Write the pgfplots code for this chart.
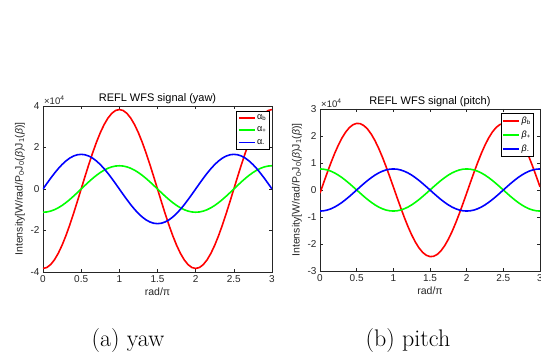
\documentclass[border=0pt]{standalone}
\usepackage{fontspec}
\usepackage{pgfplots}
\usepackage{pgfplotstable}
\pgfplotsset{compat=1.18}
\newfontfamily\arial{Liberation Sans}
\definecolor{axgray}{rgb}{0.15,0.15,0.15}

\pgfplotstableread{
x yb yp ym pb pp pm
0.00 -38300 -11200 0 -1163 7800 -7800
0.05 -37829 -11062 2612 2710 7704 -7704
0.10 -36427 -10652 5160 6518 7419 -7419
0.15 -34125 -9979 7582 10164 6950 -6950
0.20 -30985 -9061 9816 13560 6310 -6310
0.25 -27082 -7920 11809 16623 5515 -5515
0.30 -22513 -6583 13510 19276 4585 -4585
0.35 -17388 -5085 14880 21454 3541 -3541
0.40 -11835 -3461 15883 23104 2410 -2410
0.45 -5990 -1752 16495 24186 1220 -1220
0.50 0 0 16700 24673 0 0
0.55 5990 1752 16495 24552 -1220 1220
0.60 11835 3461 15883 23826 -2410 2410
0.65 17388 5085 14880 22512 -3541 3541
0.70 22513 6583 13510 20644 -4585 4585
0.75 27082 7920 11809 18268 -5515 5515
0.80 30985 9061 9816 15442 -6310 6310
0.85 34125 9979 7582 12239 -6950 6950
0.90 36427 10652 5160 8731 -7419 7419
0.95 37829 11062 2612 5009 -7704 7704
1.00 38300 11200 0 1163 -7800 7800
1.05 37829 11062 -2612 -2710 -7704 7704
1.10 36427 10652 -5160 -6518 -7419 7419
1.15 34125 9979 -7582 -10164 -6950 6950
1.20 30985 9061 -9816 -13560 -6310 6310
1.25 27082 7920 -11809 -16623 -5515 5515
1.30 22513 6583 -13510 -19276 -4585 4585
1.35 17388 5085 -14880 -21454 -3541 3541
1.40 11835 3461 -15883 -23104 -2410 2410
1.45 5990 1752 -16495 -24186 -1220 1220
1.50 0 0 -16700 -24673 0 0
1.55 -5990 -1752 -16495 -24552 1220 -1220
1.60 -11835 -3461 -15883 -23826 2410 -2410
1.65 -17388 -5085 -14880 -22512 3541 -3541
1.70 -22513 -6583 -13510 -20644 4585 -4585
1.75 -27082 -7920 -11809 -18268 5515 -5515
1.80 -30985 -9061 -9816 -15442 6310 -6310
1.85 -34125 -9979 -7582 -12239 6950 -6950
1.90 -36427 -10652 -5160 -8731 7419 -7419
1.95 -37829 -11062 -2612 -5009 7704 -7704
2.00 -38300 -11200 0 -1163 7800 -7800
2.05 -37829 -11062 2612 2710 7704 -7704
2.10 -36427 -10652 5160 6518 7419 -7419
2.15 -34125 -9979 7582 10164 6950 -6950
2.20 -30985 -9061 9816 13560 6310 -6310
2.25 -27082 -7920 11809 16623 5515 -5515
2.30 -22513 -6583 13510 19276 4585 -4585
2.35 -17388 -5085 14880 21454 3541 -3541
2.40 -11835 -3461 15883 23104 2410 -2410
2.45 -5990 -1752 16495 24186 1220 -1220
2.50 0 0 16700 24673 0 0
2.55 5990 1752 16495 24552 -1220 1220
2.60 11835 3461 15883 23826 -2410 2410
2.65 17388 5085 14880 22512 -3541 3541
2.70 22513 6583 13510 20644 -4585 4585
2.75 27082 7920 11809 18268 -5515 5515
2.80 30985 9061 9816 15442 -6310 6310
2.85 34125 9979 7582 12239 -6950 6950
2.90 36427 10652 5160 8731 -7419 7419
2.95 37829 11062 2612 5009 -7704 7704
3.00 38300 11200 0 1163 -7800 7800
}\datatab

\pgfplotsset{
  mstyle/.style={
    scale only axis,
    xmin=0, xmax=3,
    xtick={0,0.5,1,1.5,2,2.5,3},
    scaled y ticks=false,
    tick align=inside,
    major tick length=3pt,
    tick style={axgray, line width=0.5pt},
    axis line style={axgray, line width=0.6pt},
    ticklabel style={text=axgray, font=\arial\fontsize{10}{12}\selectfont},
    /pgf/number format/assume math mode=true,
    label style={text=axgray, font=\arial\fontsize{10.5}{12}\selectfont},
    title style={font=\arial\fontsize{11}{13}\selectfont, yshift=-7pt},
    ylabel style={yshift=-1pt},
    xlabel style={yshift=2pt},
    legend style={draw=black, fill=white, line width=0.6pt,
      font=\arial\fontsize{9}{10}\selectfont, inner xsep=1.5pt, inner ysep=2pt,
      row sep=3pt, nodes={inner sep=1.5pt}},
    legend cell align=left,
    legend image code/.code={\draw[#1, line width=1.6pt] (0pt,0pt) -- (16pt,0pt);},
    every axis plot/.append style={line width=1.6pt},
    tenfour/.style={after end axis/.code={
      \node[anchor=south west, font=\arial\fontsize{9.5}{11}\selectfont, text=axgray, inner sep=1pt] at (rel axis cs:0,1) {×10\textsuperscript{4}};}},
  }
}

\begin{document}
\begin{tikzpicture}
\useasboundingbox (0pt,0pt) rectangle (541pt,363pt);
\begin{axis}[mstyle, tenfour,
  at={(43pt,91pt)}, anchor=south west,
  width=229pt, height=166pt,
  ymin=-40000, ymax=40000,
  ytick={-40000,-20000,0,20000,40000},
  yticklabels={-4,-2,0,2,4},
  title={REFL WFS signal (yaw)},
  xlabel={rad/π},
  ylabel={Intensity[W/rad/P\textsubscript{0}J\textsubscript{0}(\textit{β})J\textsubscript{1}(\textit{β})]},
  legend style={at={(0.99,0.97)}, anchor=north east},
]
\addplot[red] table[x=x, y=yb] {\datatab};
\addlegendentry{α\textsubscript{b}}
\addplot[green] table[x=x, y=yp] {\datatab};
\addlegendentry{α\textsubscript{+}}
\addplot[blue] table[x=x, y=ym] {\datatab};
\addlegendentry{α\textsubscript{-}}
\end{axis}
\begin{axis}[mstyle, tenfour,
  at={(320pt,92pt)}, anchor=south west,
  width=220pt, height=162pt,
  ymin=-30000, ymax=30000,
  ytick={-30000,-20000,-10000,0,10000,20000,30000},
  yticklabels={-3,-2,-1,0,1,2,3},
  title={REFL WFS signal (pitch)},
  xlabel={rad/π},
  ylabel={Intensity[W/rad/P\textsubscript{0}J\textsubscript{0}(\textit{β})J\textsubscript{1}(\textit{β})]},
  legend style={at={(0.973,0.975)}, anchor=north east},
]
\addplot[red] table[x=x, y=pb] {\datatab};
\addlegendentry{\textit{β}\textsubscript{b}}
\addplot[green] table[x=x, y=pp] {\datatab};
\addlegendentry{\textit{β}\textsubscript{+}}
\addplot[blue] table[x=x, y=pm] {\datatab};
\addlegendentry{\textit{β}\textsubscript{-}}
\end{axis}
\node[anchor=base, font=\fontsize{24}{28}\selectfont] at (128pt,16pt) {(a) yaw};
\node[anchor=base, font=\fontsize{24}{28}\selectfont] at (408pt,16pt) {(b) pitch};
\end{tikzpicture}
\end{document}
